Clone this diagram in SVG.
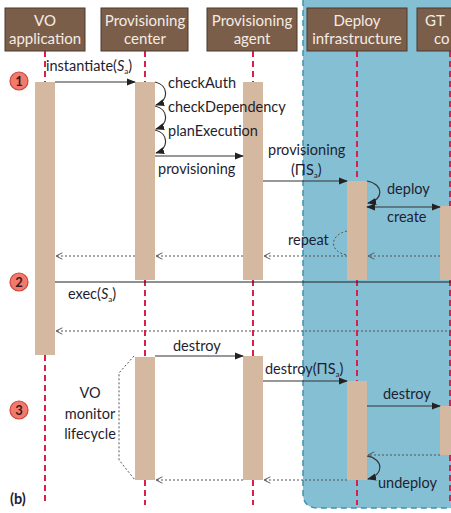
<svg xmlns="http://www.w3.org/2000/svg" width="451" height="513" viewBox="0 0 451 513">
<defs>
<style>
.hdr{fill:#7b5e4a;stroke:#4a382c;stroke-width:1}
.ht{font-family:Lato,"Open Sans",sans-serif;font-size:15px;fill:#f4ece4;text-anchor:middle}
.t{font-family:Lato,"Open Sans",sans-serif;font-size:14.5px;fill:#1e1e30}
.bar{fill:#d4b8a0}
.life{stroke:#d8204a;stroke-width:2;stroke-dasharray:6,4;fill:none}
.msg{stroke:#333;stroke-width:1.2;fill:none}
.ret{stroke:#555;stroke-width:1;stroke-dasharray:2,2;fill:none}
.num{fill:#f27a6c;stroke:#c9463c;stroke-width:1.2}
.nt{font-family:Lato,"Open Sans",sans-serif;font-size:13px;font-weight:bold;fill:#3a1a1a;text-anchor:middle}
</style>
<marker id="ah" viewBox="0 0 10 10" refX="9" refY="5" markerWidth="9" markerHeight="9" markerUnits="userSpaceOnUse" orient="auto-start-reverse">
<path d="M0,1 L10,5 L0,9 Z" fill="#222"/>
</marker>
<marker id="oh" viewBox="0 0 10 10" refX="9" refY="5" markerWidth="8" markerHeight="8" markerUnits="userSpaceOnUse" orient="auto">
<path d="M1,1 L9,5 L1,9" fill="none" stroke="#555" stroke-width="1.2"/>
</marker>
</defs>
<rect width="451" height="513" fill="#fff"/>
<g id="infra-region">
<path d="M303,0 L303,493 Q303,508 318,508 L451,508 L451,0 Z" fill="#85bfd4"/>
<path d="M303,0 L303,493 Q303,508 318,508 L451,508" fill="none" stroke="#3e92b0" stroke-width="1.5" stroke-dasharray="6,4"/>
</g>
<g id="lifelines">
<path class="life" d="M45,51 V82 M45,355 V505"/>
<path class="life" d="M145,51 V82 M145,280 V357 M145,480 V505"/>
<path class="life" d="M253,51 V82 M253,280 V356 M253,480 V505"/>
<path class="life" d="M357,51 V181 M357,280 V381 M357,480 V505"/>
<path class="life" d="M450,51 V206 M450,280 V406 M450,455 V505"/>
</g>
<g id="node-vo-application">
<rect class="hdr" x="5" y="8" width="80" height="43"/>
<text class="ht" x="45" y="26">VO</text>
<text class="ht" x="45" y="44">application</text>
</g>
<g id="node-provisioning-center">
<rect class="hdr" x="101" y="8" width="87" height="43"/>
<text class="ht" x="145" y="26">Provisioning</text>
<text class="ht" x="145" y="44">center</text>
</g>
<g id="node-provisioning-agent">
<rect class="hdr" x="207" y="8" width="90" height="43"/>
<text class="ht" x="252" y="26">Provisioning</text>
<text class="ht" x="252" y="44">agent</text>
</g>
<g id="node-deploy-infrastructure">
<rect class="hdr" x="307" y="8" width="100" height="43"/>
<text class="ht" x="357" y="26">Deploy</text>
<text class="ht" x="357" y="44">infrastructure</text>
</g>
<g id="node-gt">
<rect class="hdr" x="417" y="8" width="60" height="43"/>
<text class="ht" x="425" y="26" style="text-anchor:start">GT</text>
<text class="ht" x="434" y="44" style="text-anchor:start">co</text>
</g>
<g id="activations">
<rect class="bar" x="35" y="82" width="20" height="273"/>
<rect class="bar" x="135" y="82" width="20" height="198"/>
<rect class="bar" x="243" y="82" width="20" height="198"/>
<rect class="bar" x="347" y="181" width="20" height="99"/>
<rect class="bar" x="440" y="206" width="20" height="74"/>
<rect class="bar" x="135" y="357" width="20" height="123"/>
<rect class="bar" x="243" y="356" width="20" height="124"/>
<rect class="bar" x="347" y="381" width="20" height="99"/>
<rect class="bar" x="440" y="406" width="20" height="49"/>
</g>
<g id="phase-markers">
<circle class="num" cx="19" cy="81" r="9"/><text class="nt" x="19" y="86">1</text>
<circle class="num" cx="19" cy="282" r="9"/><text class="nt" x="19" y="287">2</text>
<circle class="num" cx="19" cy="410" r="9"/><text class="nt" x="19" y="415">3</text>
</g>
<g id="connectors">
<path class="msg" marker-end="url(#ah)" d="M55,82 H135"/>
<path class="msg" marker-end="url(#ah)" d="M155,82 C169,85 169,101 156,105"/>
<path class="msg" marker-end="url(#ah)" d="M155,106 C169,109 169,125 156,129"/>
<path class="msg" marker-end="url(#ah)" d="M155,130 C169,133 169,149 156,153"/>
<path class="msg" marker-end="url(#ah)" d="M155,156 H243"/>
<path class="msg" marker-end="url(#ah)" d="M263,181 H347"/>
<path class="msg" marker-end="url(#ah)" d="M367,181 C384,184 384,200 368,203"/>
<path class="msg" marker-start="url(#ah)" marker-end="url(#ah)" d="M367,207 H440"/>
<path class="ret" d="M347,231 C329,235 329,252 347,255"/>
<path class="ret" marker-end="url(#oh)" d="M440,256 H368"/>
<path class="ret" marker-end="url(#oh)" d="M347,256 H264"/>
<path class="ret" marker-end="url(#oh)" d="M243,256 H156"/>
<path class="ret" marker-end="url(#oh)" d="M135,256 H56"/>
<path d="M55,282 H451" stroke="#222" stroke-width="1"/>
<path class="ret" marker-end="url(#oh)" d="M451,331 H56"/>
<path class="msg" marker-end="url(#ah)" d="M155,356 H243"/>
<path class="msg" marker-end="url(#ah)" d="M263,381 H347"/>
<path class="msg" marker-end="url(#ah)" d="M367,406 H440"/>
<path class="ret" marker-end="url(#oh)" d="M440,455 H368"/>
<path class="msg" marker-end="url(#ah)" d="M367,456 C384,459 384,475 368,479"/>
<path class="ret" marker-end="url(#oh)" d="M347,480 H264"/>
<path class="ret" marker-end="url(#oh)" d="M243,480 H156"/>
<path class="ret" d="M134,356 L119,373 V460 L135,480"/>
</g>
<g id="labels">
<text class="t" x="46" y="71">instantiate(<tspan font-style="italic">S</tspan><tspan font-size="8" dy="3">a</tspan><tspan dy="-3">)</tspan></text>
<text class="t" x="168" y="88">checkAuth</text>
<text class="t" x="168" y="112">checkDependency</text>
<text class="t" x="168" y="136" fill="#8b6846">planExecution</text>
<text class="t" x="158" y="174">provisioning</text>
<text class="t" x="268" y="155">provisioning</text>
<text class="t" x="291" y="175">(ΠS<tspan font-size="8" dy="3">a</tspan><tspan dy="-3">)</tspan></text>
<text class="t" x="387" y="194">deploy</text>
<text class="t" x="387" y="222">create</text>
<text class="t" x="288" y="245">repeat</text>
<text class="t" x="68" y="299">exec(<tspan font-style="italic">S</tspan><tspan font-size="8" dy="3">a</tspan><tspan dy="-3">)</tspan></text>
<text class="t" x="173" y="351">destroy</text>
<text class="t" x="265" y="374">destroy(ΠS<tspan font-size="8" dy="3">a</tspan><tspan dy="-3">)</tspan></text>
<text class="t" x="383" y="399">destroy</text>
<text class="t" x="378" y="488">undeploy</text>
<text class="t" x="90" y="398" text-anchor="middle">VO</text>
<text class="t" x="90" y="419" text-anchor="middle">monitor</text>
<text class="t" x="90" y="439" text-anchor="middle">lifecycle</text>
<text class="t" x="10" y="504" font-weight="bold">(b)</text>
</g>
</svg>
